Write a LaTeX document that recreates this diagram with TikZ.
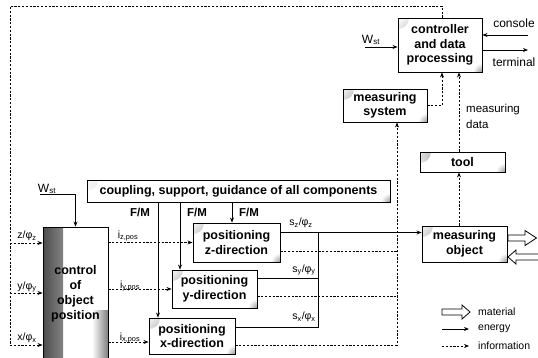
\documentclass[tikz,border=0pt]{standalone}
\usepackage{fontspec}
\setmainfont{Liberation Sans}
\usetikzlibrary{arrows.meta}
\begin{document}
\begin{tikzpicture}[x=1pt,y=-1pt,
  box/.style={draw, line width=0.9pt, fill=white, align=center, inner sep=1pt,
    font=\bfseries\fontsize{12.5}{14.5}\selectfont,
    path picture={
      \shade[inner color=black!55, outer color=white] (path picture bounding box.north west) circle (11pt);
      \shade[inner color=black!40, outer color=white] (path picture bounding box.south east) circle (9pt);}},
  cbox/.style={draw, line width=0.9pt, fill=white, align=center, inner sep=1pt,
    font=\bfseries\fontsize{12.5}{15}\selectfont,
    path picture={
      \shade[left color=black!70, right color=white] (path picture bounding box.north west) rectangle ([xshift=20pt]path picture bounding box.south west);
      \shade[left color=white, right color=black!50] ([xshift=-16pt,yshift=50pt]path picture bounding box.south east) rectangle (path picture bounding box.south east);}},
  en/.style={line width=1pt},
  info/.style={line width=0.95pt, dash pattern=on 2.2pt off 1.6pt},
  tip/.style={-{Stealth[length=5pt,width=4pt]}},
  lab/.style={font=\fontsize{12}{14}\selectfont, inner sep=0pt},
  slab/.style={font=\fontsize{10.5}{12}\selectfont, inner sep=0pt},
  flab/.style={font=\bfseries\fontsize{11.5}{13}\selectfont, inner sep=0pt},
  leg/.style={font=\fontsize{10.5}{12}\selectfont, inner sep=0pt, anchor=west},
  hollow/.style={line width=0.8pt, fill=white}]
\useasboundingbox (0,0) rectangle (538,357);
\clip (0,0) rectangle (538,357);
\fill[white] (0,0) rectangle (538,357);

% boxes
\node[box, minimum width=84pt, minimum height=54pt] (ctrl) at (440,45) {controller\\and data\\processing};
\node[box, minimum width=84pt, minimum height=33pt] (msys) at (385,105.5) {measuring\\system};
\node[box, minimum width=85pt, minimum height=20pt] (tool) at (462.5,162) {tool};
\node[box, minimum width=85pt, minimum height=36pt] (mobj) at (464.5,244) {measuring\\object};
\node[box, minimum width=303pt, minimum height=22pt] (coup) at (238.5,191) {coupling, support, guidance of all components};
\node[box, minimum width=87pt, minimum height=39pt] (zbox) at (236.5,242.5) {positioning\\z-direction};
\node[box, minimum width=85pt, minimum height=38pt] (ybox) at (214.5,289) {positioning\\y-direction};
\node[box, minimum width=86pt, minimum height=36pt] (xbox) at (192,336) {positioning\\x-direction};
\node[cbox, minimum width=65pt, minimum height=133pt] (cop) at (75.5,293.5) {control\\of\\object\\position};

% outer feedback loop
\coordinate (TR) at (442,6);
\coordinate (TL) at (10,6);
\coordinate (Lz) at (10,243);
\coordinate (Ly) at (10,293);
\coordinate (Lx) at (10,345);
\draw[info] (ctrl.north -| TR) -- (TR) -- (TL) -- (Lx);
\draw[info,tip] (Lz) -- (Lz -| cop.west);
\draw[info,tip] (Ly) -- (Ly -| cop.west);
\draw[info,tip] (Lx) -- (Lx -| cop.west);
\node[slab] (lz) at (27,236) {z/φ\textsubscript{z}};
\node[slab] (ly) at (27,287) {y/φ\textsubscript{y}};
\node[slab] (lx) at (27,338) {x/φ\textsubscript{x}};

% W_st into control
\coordinate (W1) at (40,194);
\draw[en,tip] (W1) -| (cop.north);
\node[lab] (wst1) at (47,189) {W\textsubscript{st}};

% control outputs
\path ([yshift=-6pt]xbox.west) coordinate (xin);
\draw[info,tip] (cop.east |- zbox.west) -- (zbox.west);
\draw[info,tip] (cop.east |- ybox.west) -- (ybox.west);
\draw[info,tip] (cop.east |- xin) -- (xin);
\node[slab] (iz) at (128,236) {i\textsubscript{z,pos}};
\node[slab] (iy) at (130,286) {i\textsubscript{y,pos}};
\node[slab] (ix) at (130,338) {i\textsubscript{x,pos}};

% coupling forces
\coordinate (Fx) at (158,0);
\coordinate (Fy) at (180,0);
\coordinate (Fz) at (232,0);
\draw[en,tip] (coup.south -| Fx) -- (xbox.north -| Fx);
\draw[en,tip] (coup.south -| Fy) -- (ybox.north -| Fy);
\draw[en,tip] (coup.south -| Fz) -- (zbox.north -| Fz);
\node[flab] (fm1) at (140,212) {F/M};
\node[flab] (fm2) at (197,212) {F/M};
\node[flab] (fm3) at (249,212) {F/M};

% solid outputs to measuring object
\coordinate (Bx) at (318,0);
\path ([yshift=10pt]zbox.east) coordinate (zo);
\path ([yshift=11pt]ybox.east) coordinate (yo);
\path ([yshift=9pt]xbox.east) coordinate (xo);
\draw[en,tip] (zo) -- (zo -| mobj.west);
\draw[en] (yo) -- (yo -| Bx) -- (zo -| Bx);
\draw[en] (xo) -- (xo -| Bx) -- (yo -| Bx);
\node[slab] (sz) at (301,223) {s\textsubscript{z}/φ\textsubscript{z}};
\node[slab] (sy) at (304,270) {s\textsubscript{y}/φ\textsubscript{y}};
\node[slab] (sx) at (304,317) {s\textsubscript{x}/φ\textsubscript{x}};

% dashed outputs to measuring system
\coordinate (Dx) at (397,0);
\path ([yshift=-8.5pt]zbox.east) coordinate (zd);
\path ([yshift=-7pt]ybox.east) coordinate (yd);
\path ([yshift=-9pt]xbox.east) coordinate (xd);
\draw[info] (zd) -- (zd -| Dx);
\draw[info] (yd) -- (yd -| Dx);
\draw[info,tip] (xd) -- (xd -| Dx) -- (msys.south -| Dx);

% measuring system / tool to controller
\coordinate (M1) at (442,0);
\coordinate (T1) at (459,0);
\draw[info,tip] (msys.east) -| (ctrl.south -| M1);
\draw[info,tip] (tool.north -| T1) -- (ctrl.south -| T1);
\draw[info,tip] (mobj.north -| T1) -- (tool.south -| T1);
\node[lab, anchor=west, align=left, font=\fontsize{11.5}{16}\selectfont] (md) at (466,116) {measuring\\data};

% controller I/O
\coordinate (Wc) at (365,47);
\draw[en,tip] (Wc) -- (Wc -| ctrl.west);
\node[lab] (wst2) at (371,40) {W\textsubscript{st}};
\coordinate (Cn) at (528,35);
\coordinate (Tm) at (528,50);
\draw[en,tip] (Cn) -- (Cn -| ctrl.east);
\draw[en,tip] (Tm -| ctrl.east) -- (Tm);
\node[lab] (cons) at (514,23) {console};
\node[lab] (term) at (514,62) {terminal};

% material arrows
\draw[hollow] (508,235) -- (525,235) -- (525,230.5) -- (536.5,238) -- (525,245.5) -- (525,241) -- (508,241) -- cycle;
\draw[hollow] (541,254) -- (516,254) -- (516,250) -- (508,257) -- (516,264) -- (516,260) -- (541,260);

% legend
\draw[hollow] (442,309) -- (462,309) -- (462,305) -- (470,312) -- (462,319) -- (462,315) -- (442,315) -- cycle;
\coordinate (e1) at (442,329);
\coordinate (e2) at (469,329);
\coordinate (i1) at (442,346);
\coordinate (i2) at (469,346);
\draw[en,tip] (e1) -- (e2);
\draw[info,tip] (i1) -- (i2);
\node[leg] (lm) at (478,312) {material};
\node[leg] (le) at (478,329) {energy};
\node[leg] (li) at (478,346) {information};
\end{tikzpicture}
\end{document}
